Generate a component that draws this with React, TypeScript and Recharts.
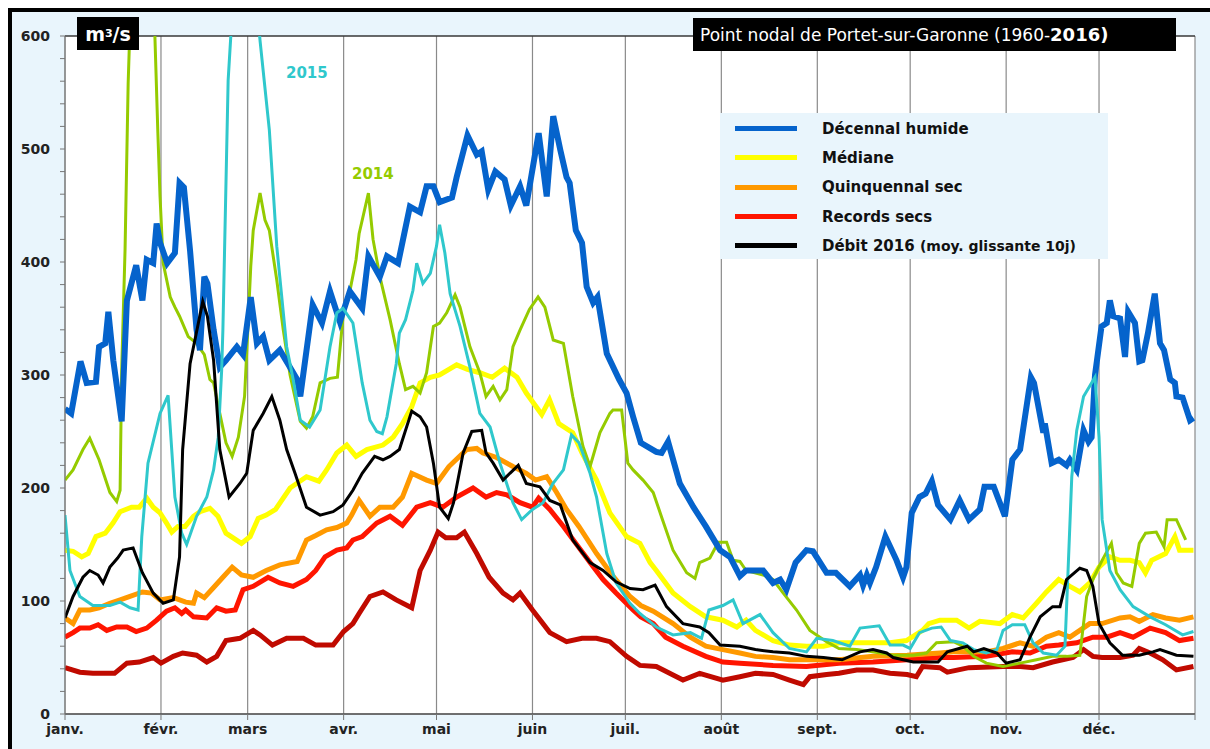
import React from "react";
import { CartesianGrid, Legend, Line, LineChart, XAxis, YAxis } from "recharts";

// Portet-sur-Garonne, débits journaliers (m3/s), x = jour de l'année
const MONTH_LABELS = ["janv.", "févr.", "mars", "avr.", "mai", "juin", "juil.", "août", "sept.", "oct.", "nov.", "déc.", ""];
const MONTH_STARTS = [0, 31, 59, 90, 120, 151, 181, 212, 243, 273, 304, 334, 365];
const Y_TICKS = [0, 20, 40, 60, 80, 100, 120, 140, 160, 180, 200, 220, 240, 260, 280, 300, 320, 340, 360, 380, 400, 420, 440, 460, 480, 500, 520, 540, 560, 580, 600];
const Y_GRID = [100, 200, 300, 500];
const Y_GRID_DARK = [400];

const decennalHumide: [number, number][] = [
  [0, 270], [2, 266], [5, 312], [7, 293], [10, 294], [11, 325], [13, 328], [14, 356], [15.6, 313], [18.3, 259],
  [20, 366], [23, 397], [25, 366], [26.4, 402], [28.5, 399], [29.6, 434], [30.7, 417], [33, 399], [35.5, 408], [37, 470],
  [38.4, 466], [40.4, 410], [42.5, 340], [43.6, 322], [45, 387], [46, 381], [48, 340], [50, 307], [52, 313], [55.5, 325],
  [57.5, 318], [60, 369], [62, 328], [64, 334], [66, 313], [69.4, 322], [72, 310], [75, 296], [76, 281], [80, 362],
  [83, 346], [85.6, 374], [88.8, 347], [92, 374], [96, 359], [98, 405], [101.7, 387], [104, 405], [107.6, 399], [111.4, 449],
  [114.7, 444], [116.8, 467], [119, 467], [121, 453], [125, 457], [126.5, 475], [130, 512], [133, 495], [134.6, 498], [136.7, 464],
  [139, 480], [142, 473], [144, 450], [147, 467], [149, 450], [153, 514], [155.6, 458], [157.7, 529], [160, 499], [162, 475],
  [163, 470], [165, 428], [167, 417], [168.5, 378], [170.6, 364], [172, 369], [175, 319], [179, 296], [181.4, 284], [183.5, 263],
  [186, 240], [191, 232], [192.7, 231], [194.8, 241], [198.6, 204], [203, 183], [207, 166], [211.6, 145], [214.8, 139], [218, 122],
  [220, 127], [225.5, 127], [228.7, 116], [231, 119], [233, 110], [236, 134], [239.5, 145], [241.6, 144], [246, 125], [249, 125],
  [253.5, 113], [256.8, 123], [257.8, 114], [259, 123], [260, 116], [262, 130], [265, 157], [268.6, 136], [270.7, 121], [271.8, 130],
  [273.5, 178], [276, 192], [278, 195], [280, 206], [282, 185], [286, 172], [289, 189], [292, 172], [295.5, 181], [297, 201],
  [300, 201], [303.6, 175], [306, 225], [308.5, 234], [312, 298], [313, 293], [316, 249], [316.5, 257], [318.7, 222], [321, 225],
  [323.5, 220], [324.6, 225], [326.8, 216], [329, 251], [330.6, 241], [331.6, 245], [332.7, 300], [334.8, 343], [336.5, 346], [337.5, 366],
  [338.6, 352], [340.8, 350], [342.4, 316], [343.4, 356], [345.6, 346], [347, 312], [348, 313], [349.8, 337], [352, 372], [353.7, 328],
  [355, 322], [357, 296], [358.5, 293], [359, 281], [361, 280], [363.4, 260], [364.5, 262],
];

const mediane: [number, number][] = [
  [0, 145], [2.6, 144], [5.4, 139], [7.5, 142], [10, 157], [13, 160], [15.5, 169], [17.8, 179], [21.5, 183], [24, 183],
  [26.4, 191], [28.5, 183], [30.7, 178], [32.8, 169], [34.5, 161], [36.5, 166], [38.8, 166], [41.5, 175], [43.6, 179], [46.8, 182],
  [49.4, 175], [52, 160], [57, 151], [59.8, 157], [62.4, 173], [65, 176], [68, 181], [72.7, 200], [78, 210], [82, 206],
  [84.5, 216], [87.8, 231], [91, 238], [94, 228], [97.5, 234], [102.7, 238], [106, 245], [109, 257], [112, 272], [114.7, 293],
  [118, 298], [121, 300], [126.5, 309], [130, 305], [134, 302], [138, 298], [142, 306], [146, 298], [149, 284], [154, 265],
  [156.5, 278], [159.5, 257], [164, 249], [167, 231], [171.7, 207], [176, 178], [181.4, 157], [185.7, 151], [189, 134], [191, 127],
  [196.4, 107], [202, 95], [207, 86], [212.5, 83], [217, 77], [220, 83], [223, 74], [228.7, 65], [234, 61], [239.5, 60],
  [245, 60], [250, 63], [255.7, 63], [261, 63], [266.5, 63], [271.8, 65], [277, 74], [279, 80], [282.6, 83], [288, 83],
  [292, 76], [295.5, 82], [302, 80], [306, 88], [309.5, 85], [313.8, 98], [317, 108], [321, 119], [324.6, 113], [327.8, 108],
  [331, 116], [334, 130], [337.5, 139], [340.8, 136], [344, 136], [347, 134], [349, 125], [351, 136], [355.5, 142], [358.5, 157],
  [360, 145], [364.5, 145],
];

const quinquennalSec: [number, number][] = [
  [0, 85], [2.6, 80], [4.8, 92], [8, 92], [11, 94], [14.5, 98], [17.8, 101], [21, 104], [25, 108], [28, 107],
  [30.7, 101], [35, 103], [39, 99], [41.5, 98], [42.5, 107], [45, 103], [48, 112], [51, 121], [54, 130], [57, 123],
  [60.8, 121], [65, 127], [69.4, 132], [75, 135], [78, 154], [81, 158], [84.5, 163], [87.8, 165], [91, 169], [92.6, 176],
  [95, 189], [98.5, 175], [101.7, 183], [106, 183], [109, 192], [112, 213], [116.8, 207], [120, 204], [124, 219], [129.7, 234],
  [133, 235], [135, 231], [139.4, 227], [144.7, 219], [149, 213], [152, 207], [155.6, 210], [158.8, 196], [162, 181], [166, 166],
  [171.7, 142], [177, 122], [182.5, 104], [186, 96], [190, 91], [196.4, 80], [202, 68], [207, 60], [212.5, 57], [218, 54],
  [223, 51], [228.7, 50], [234, 48], [239.5, 48], [250, 48], [261, 51], [272, 52], [282.6, 54], [287, 55], [297.6, 55],
  [303, 58], [308.5, 63], [312.7, 60], [317, 68], [321, 72], [324.6, 68], [327.8, 74], [331, 80], [335, 80], [340.8, 85],
  [344, 86], [347, 82], [351.4, 88], [355.5, 85], [360, 83], [364.5, 86],
];

const recordsSecs: [number, number][] = [
  [0, 68], [2.6, 72], [4.8, 76], [8, 76], [10.7, 79], [13.5, 74], [16.7, 77], [20, 77], [23, 73], [26.4, 76],
  [29.6, 83], [32.8, 91], [35.5, 94], [37.7, 89], [39, 92], [41.5, 86], [45.8, 85], [49, 94], [52, 91], [55, 92],
  [57.5, 110], [60.8, 113], [65.6, 121], [69.4, 116], [73.7, 113], [78, 119], [81, 127], [84, 139], [87.8, 145], [91, 147],
  [93, 154], [96, 157], [100.7, 169], [105, 175], [109, 167], [113.6, 183], [118, 187], [122, 183], [126.5, 192], [131.8, 200],
  [136, 192], [139.4, 196], [142.7, 194], [147, 187], [151, 183], [153, 191], [156.6, 181], [161, 166], [165, 151], [169.6, 134],
  [173.8, 119], [178, 107], [183.5, 92], [186, 86], [190, 80], [194, 68], [199.6, 60], [207, 51], [212.5, 46], [218, 45],
  [228.7, 43], [239.5, 42], [250, 45], [261, 46], [272, 48], [282.6, 50], [287, 50], [297.6, 51], [306, 55], [311.7, 54],
  [317, 60], [321, 61], [326.8, 63], [332, 68], [336.5, 68], [340.8, 72], [345, 68], [350.5, 76], [355.5, 72], [360, 65],
  [364.5, 67],
];

// courbe basse sans entrée de légende
const recordsBas: [number, number][] = [
  [0, 41], [4.8, 37], [9, 36], [16, 36], [20, 45], [24, 46], [28.5, 50], [31, 45], [35, 51], [38, 54],
  [42.5, 52], [45.8, 46], [49, 51], [52, 65], [56.5, 67], [60.8, 74], [63, 70], [67, 61], [71.6, 67], [77, 67],
  [81, 61], [86.6, 61], [90, 73], [93, 80], [95, 89], [98.5, 104], [102.7, 108], [107, 101], [112, 94], [114.7, 127],
  [118, 145], [120.5, 161], [123, 156], [126.5, 156], [129, 161], [133, 142], [137, 121], [141.5, 107], [144.7, 101], [147, 107],
  [151, 92], [156.6, 72], [162, 64], [167, 67], [171.7, 67], [176, 64], [181.4, 51], [185.7, 43], [191, 42], [199.6, 30],
  [205, 36], [212.5, 30], [218, 33], [223, 36], [228.7, 35], [234, 30], [238.5, 26], [240.6, 33], [246, 35], [250, 36],
  [255.7, 39], [261, 39], [266.5, 36], [272, 35], [275, 33], [277, 42], [282.6, 41], [285, 37], [292, 41], [303, 42],
  [308.5, 42], [312.7, 41], [319, 46], [325.6, 50], [329, 57], [332, 51], [335, 50], [340.8, 50], [345, 52], [347, 58],
  [350.5, 54], [354.6, 48], [359, 39], [364.5, 42],
];

const debit2016: [number, number][] = [
  [0, 85], [2.6, 104], [5.8, 121], [8, 127], [10.7, 123], [12.3, 116], [14.5, 130], [17, 138], [18.8, 145], [22, 147],
  [25, 125], [28.5, 107], [31.7, 98], [35, 101], [37, 139], [38, 234], [40.4, 310], [44.5, 365], [46, 352], [48, 313],
  [50, 234], [53, 192], [56.5, 204], [58.7, 213], [60.8, 251], [64, 266], [66.8, 281], [69.4, 260], [71.6, 234], [74.3, 213],
  [78, 183], [82.4, 176], [86.6, 179], [89.8, 185], [93, 198], [96, 213], [100, 228], [102.7, 225], [105, 228], [108, 234],
  [112, 268], [114.7, 263], [116.8, 254], [119, 222], [121, 183], [123.8, 173], [125.5, 187], [128.6, 231], [131.4, 250], [134.6, 251],
  [136, 231], [138.3, 222], [141.5, 207], [143.7, 213], [146.4, 220], [149, 204], [153.4, 201], [156.6, 189], [160, 185], [164, 154],
  [169.6, 134], [173.8, 127], [178, 117], [182.5, 111], [186.7, 110], [190.6, 114], [194.3, 95], [199.6, 80], [205, 77], [208, 72],
  [211.6, 61], [218, 60], [223, 57], [228.7, 55], [234, 54], [239.5, 51], [245, 50], [251, 48], [256.8, 55], [261, 57],
  [265.4, 54], [267.5, 50], [274, 46], [282, 46], [285, 55], [291.4, 60], [293.5, 55], [296.8, 58], [301, 54], [304, 45],
  [308.5, 48], [311.7, 68], [315, 86], [319, 95], [321.4, 95], [323.5, 119], [327.8, 129], [330, 127], [332, 113], [334, 80],
  [337.5, 63], [341.6, 52], [347, 52], [351.4, 55], [353.7, 57], [359, 52], [364.5, 51],
];

const annee2015: [number, number][] = [
  [0, 176], [1.6, 127], [4.8, 104], [9, 96], [14.5, 96], [17.8, 99], [21, 94], [23.6, 92], [24.8, 157], [26.8, 222],
  [30.7, 266], [33.3, 282], [35.5, 192], [37.7, 160], [39.3, 150], [42.5, 175], [45.8, 192], [48, 216], [49.5, 245], [50.6, 304],
  [51, 340], [52.7, 561], [54, 620], [57, 700], [60, 690], [63, 596], [66, 517], [68.4, 414], [71.6, 325], [73.7, 296],
  [76, 260], [79, 254], [82.4, 269], [85.6, 325], [87.8, 355], [89.8, 359], [93, 346], [96, 293], [98.5, 260], [100.7, 250],
  [102.5, 248], [104, 263], [107, 310], [108, 337], [110, 349], [112.4, 375], [113.6, 399], [115.6, 381], [118, 390], [120, 414],
  [121, 433], [122.7, 408], [124.4, 372], [127.6, 343], [130.8, 307], [134, 266], [137.3, 254], [140.5, 222], [144.7, 187], [147.5, 172],
  [151, 181], [154.4, 187], [157.6, 204], [161, 216], [163.6, 247], [166, 240], [169.6, 213], [171.7, 192], [175, 142], [178, 116],
  [182.5, 98], [185.7, 89], [191, 77], [196.4, 70], [202, 72], [205.6, 67], [208, 92], [212.5, 96], [215.8, 101], [219, 80],
  [224.5, 88], [228.7, 72], [234, 58], [239.5, 55], [242.8, 67], [248, 65], [253.5, 60], [256.8, 76], [263, 78], [266.5, 61],
  [270.7, 61], [273, 58], [276, 72], [280, 76], [283, 77], [286, 65], [290, 63], [293.5, 57], [297.6, 54], [301, 57],
  [303, 74], [306, 79], [310, 79], [312.7, 63], [316, 54], [320.3, 52], [323, 60], [324, 127], [325.2, 210], [326.8, 251],
  [329, 281], [332.7, 298], [334, 245], [335, 172], [337.5, 127], [340.8, 110], [345, 95], [350.5, 86], [355.5, 79], [361, 70],
  [364.5, 73],
];

const annee2014: [number, number][] = [
  [0, 207], [2.6, 216], [5.8, 234], [8, 244], [11, 225], [14.5, 196], [16.7, 188], [17.8, 198], [18.3, 304], [19.4, 411],
  [20.4, 558], [21, 610], [24, 780], [27, 760], [29, 603], [30, 514], [30.7, 458], [31.7, 399], [34, 369], [35.5, 360],
  [37, 352], [39.8, 334], [42.5, 328], [45, 318], [46.8, 296], [48, 293], [50, 266], [52, 240], [54, 228], [56, 245],
  [58, 281], [59, 337], [60, 396], [60.8, 428], [63, 461], [64.6, 437], [66, 428], [68.4, 384], [70.5, 340], [72.7, 300],
  [76, 259], [78, 253], [80, 263], [82.4, 293], [85.6, 297], [88, 298], [89.8, 352], [92, 374], [94, 402], [95, 425],
  [98, 461], [99.5, 420], [101.7, 387], [105, 349], [108, 310], [110, 287], [112.4, 290], [114.7, 284], [116.8, 302], [119, 343],
  [121, 346], [123.3, 355], [126, 371], [127.6, 360], [130.8, 325], [134, 302], [136, 281], [138.3, 290], [140.5, 278], [142.7, 287],
  [144.7, 325], [147, 340], [150, 358], [152.8, 369], [155, 360], [157.7, 331], [161, 328], [164, 281], [167.3, 237], [169.6, 219],
  [172.8, 249], [176, 266], [177, 269], [179.8, 269], [181.8, 222], [183.5, 216], [186.7, 207], [190, 196], [193, 172], [196.4, 145],
  [200.8, 125], [203.5, 120], [205, 134], [208.3, 138], [211, 152], [213.7, 152], [215.8, 136], [218, 135], [220, 127], [225.5, 123],
  [228.7, 119], [232, 107], [236.3, 92], [240.6, 74], [246, 64], [250, 58], [255.7, 57], [261, 55], [267.5, 52], [274, 52],
  [278.3, 54], [281.5, 63], [287, 64], [290, 60], [293.5, 51], [297.6, 45], [303, 42], [308.5, 45], [313.8, 48], [319, 51],
  [323.5, 51], [327.8, 52], [329, 80], [330, 104], [332.3, 121], [335, 136], [338, 151], [339.6, 125], [341.8, 116], [344.6, 113],
  [347, 151], [349, 160], [352.5, 161], [355, 148], [356, 172], [359, 172], [362, 154],
];

const LEGEND_ORDER = ["Décennal humide", "Médiane", "Quinquennal sec", "Records secs", "Débit 2016"];

const FONT = "'DejaVu Sans', Verdana, sans-serif";
const BG = "#e9f5fc";

const toPts = (s: [number, number][]) => s.map(([d, v]) => ({ d, v }));

function monthLabel(d: number) {
  const i = MONTH_STARTS.indexOf(d);
  return i >= 0 ? MONTH_LABELS[i] : "";
}

function YTick(props: any) {
  const { x, y, payload } = props;
  if (payload.value % 100 !== 0) return <g />;
  return (
    <text x={x} y={y} dy={5} textAnchor="end" fontFamily={FONT} fontSize={14} fontWeight="bold" fill="#222">
      {payload.value}
    </text>
  );
}

function LegendBox(props: any) {
  const items = (props.payload || [])
    .filter((it: any) => LEGEND_ORDER.includes(it.value))
    .sort((a: any, b: any) => LEGEND_ORDER.indexOf(a.value) - LEGEND_ORDER.indexOf(b.value));
  return (
    <div style={{ background: BG, width: 388, height: 146, paddingTop: 1, boxSizing: "border-box" }}>
      {items.map((it: any) => (
        <div key={it.value} style={{ display: "flex", alignItems: "center", height: 29.3 }}>
          <div style={{ width: 62, height: 5, marginLeft: 15, background: it.color }} />
          <div style={{ marginLeft: 25, fontFamily: FONT, fontSize: 15, fontWeight: "bold", color: "#111", whiteSpace: "nowrap" }}>
            {it.value === "Débit 2016" ? (
              <>
                Débit <span style={{ fontWeight: 900 }}>2016</span>{" "}
                <span style={{ fontSize: 14 }}>(moy. glissante 10j)</span>
              </>
            ) : (
              it.value
            )}
          </div>
        </div>
      ))}
    </div>
  );
}

export default function App() {
  return (
    <div style={{ position: "fixed", left: 0, top: 0, width: 1210, height: 749, overflow: "hidden", background: "#fff" }}>
      <div
        style={{
          position: "absolute",
          left: 8,
          top: 8,
          width: 1220,
          height: 760,
          borderLeft: "4px solid #000",
          borderTop: "4px solid #000",
          background: BG,
        }}
      />
      <div style={{ position: "absolute", left: 0, top: 0 }}>
        <LineChart width={1210} height={749} margin={{ top: 36, right: 15, bottom: 5, left: 5 }}>
          <CartesianGrid fill="#fff" stroke="#8a8a8a" strokeWidth={1.2} yAxisId="grid" />
          <CartesianGrid stroke="#111" strokeWidth={1.2} vertical={false} yAxisId="gridDark" />
          <XAxis
            dataKey="d"
            type="number"
            domain={[0, 365]}
            ticks={MONTH_STARTS}
            interval={0}
            allowDataOverflow
            tickFormatter={monthLabel}
            tick={{ fontFamily: FONT, fontSize: 14, fontWeight: "bold", fill: "#222" }}
            tickSize={6}
            tickMargin={4}
            stroke="#777"
            height={30}
          />
          <YAxis
            yAxisId="left"
            type="number"
            domain={[0, 600]}
            ticks={Y_TICKS}
            interval={0}
            allowDataOverflow
            tick={<YTick />}
            tickSize={5}
            tickMargin={10}
            stroke="#777"
            width={60}
          />
          <YAxis yAxisId="grid" orientation="right" type="number" domain={[0, 600]} ticks={Y_GRID} interval={0} width={0} hide />
          <YAxis yAxisId="gridDark" orientation="right" type="number" domain={[0, 600]} ticks={Y_GRID_DARK} interval={0} width={0} hide />
          <Legend
            layout="vertical"
            align="center"
            verticalAlign="middle"
            content={<LegendBox />}
            wrapperStyle={{ position: "absolute", left: 720, top: 113, width: 388, height: 146 }}
          />
          <Line yAxisId="left" data={toPts(recordsBas)} dataKey="v" stroke="#c00a00" strokeWidth={5} dot={false} legendType="none" isAnimationActive={false} />
          <Line yAxisId="left" data={toPts(recordsSecs)} dataKey="v" name="Records secs" stroke="#ff1500" strokeWidth={5} dot={false} isAnimationActive={false} />
          <Line yAxisId="left" data={toPts(quinquennalSec)} dataKey="v" name="Quinquennal sec" stroke="#ff9900" strokeWidth={5} dot={false} isAnimationActive={false} />
          <Line yAxisId="left" data={toPts(mediane)} dataKey="v" name="Médiane" stroke="#ffff00" strokeWidth={5} dot={false} isAnimationActive={false} />
          <Line yAxisId="left" data={toPts(annee2014)} dataKey="v" stroke="#95cb00" strokeWidth={3} dot={false} legendType="none" isAnimationActive={false} />
          <Line yAxisId="left" data={toPts(decennalHumide)} dataKey="v" name="Décennal humide" stroke="#0563cc" strokeWidth={6} dot={false} isAnimationActive={false} />
          <Line yAxisId="left" data={toPts(annee2015)} dataKey="v" stroke="#2fc8cc" strokeWidth={3} dot={false} legendType="none" isAnimationActive={false} />
          <Line yAxisId="left" data={toPts(debit2016)} dataKey="v" name="Débit 2016" stroke="#000" strokeWidth={3} dot={false} isAnimationActive={false} />
        </LineChart>
      </div>
      <div
        style={{
          position: "absolute", left: 77, top: 17, width: 62, height: 33, background: "#000", color: "#fff",
          fontFamily: FONT, fontSize: 19, fontWeight: "bold", display: "flex", alignItems: "center", justifyContent: "center",
        }}
      >
        m<sup style={{ fontSize: 11, lineHeight: 0 }}>3</sup>/s
      </div>
      <div
        style={{
          position: "absolute", left: 693, top: 18, width: 483, height: 33, background: "#000", color: "#fff",
          fontFamily: FONT, fontSize: 17, display: "flex", alignItems: "center", paddingLeft: 7, boxSizing: "border-box", whiteSpace: "nowrap",
        }}
      >
        Point nodal de Portet-sur-Garonne (1960-<b style={{ fontSize: 18 }}>2016)</b>
      </div>
      <div style={{ position: "absolute", left: 286, top: 64, fontFamily: FONT, fontSize: 15, fontWeight: "bold", color: "#2fc8cc" }}>2015</div>
      <div style={{ position: "absolute", left: 352, top: 165, fontFamily: FONT, fontSize: 15, fontWeight: "bold", color: "#95cb00" }}>2014</div>
    </div>
  );
}
